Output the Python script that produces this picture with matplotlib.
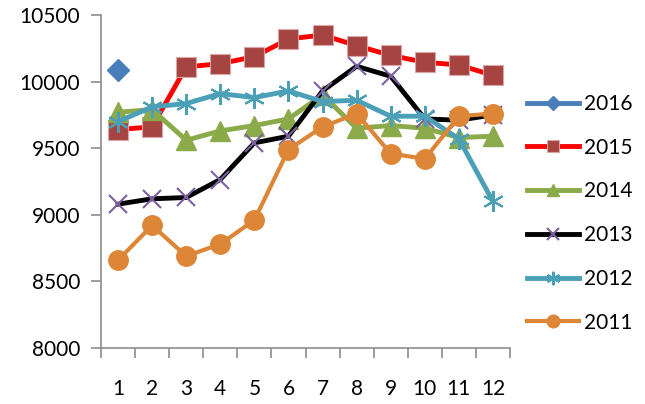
import matplotlib.pyplot as plt
import numpy as np

plt.rcParams['font.family'] = ['Lato', 'DejaVu Sans']

months = [1, 2, 3, 4, 5, 6, 7, 8, 9, 10, 11, 12]

y2016 = [10090]
y2015 = [9640, 9660, 10110, 10135, 10187, 10320, 10350, 10270, 10197, 10145, 10125, 10047]
y2014 = [9770, 9790, 9560, 9630, 9670, 9720, 9900, 9650, 9670, 9650, 9580, 9590]
y2013 = [9080, 9120, 9130, 9265, 9540, 9590, 9930, 10115, 10040, 9720, 9710, 9750]
y2012 = [9700, 9810, 9835, 9910, 9880, 9930, 9850, 9860, 9740, 9740, 9570, 9100]
y2011 = [8660, 8920, 8690, 8780, 8960, 9490, 9660, 9760, 9460, 9420, 9740, 9760]

series = [
    ('2016', y2016, 3.5, dict(color='#4A7EBB', marker='D', ms=11, mfc='#4A7EBB', mec='#4A7EBB')),
    ('2015', y2015, 3.5, dict(color='#FF0000', marker='s', ms=14, mfc='#A64442', mec='#D9A8A6', mew=0.8)),
    ('2014', y2014, 3.5, dict(color='#8BAA4A', marker='^', ms=14, mfc='#8BAA4A', mec='#8BAA4A')),
    ('2013', y2013, 3.5, dict(color='#000000', marker='x', ms=13, mfc='#7B5FA0', mec='#7B5FA0', mew=1.5)),
    ('2012', y2012, 3.5, dict(color='#4BA0B8', marker=(6, 2, 0), ms=15, mfc='#4BA0B8', mec='#4BA0B8', mew=1.5)),
    ('2011', y2011, 3.0, dict(color='#DD8638', marker='o', ms=14, mfc='#DD8638', mec='#DD8638')),
]

fig = plt.figure(figsize=(6.45, 4.04), dpi=100)
ax = fig.add_axes([101 / 645, 56 / 404, 409 / 645, 333 / 404])

for name, vals, lw, style in series:
    ax.plot(months[:len(vals)], vals, lw=lw, label=name, **style)

ax.set_xlim(0.5, 12.5)
ax.set_ylim(8000, 10500)
ax.set_yticks(np.arange(8000, 10501, 500))
ax.set_xticks(months)
ax.set_xticks(np.arange(0.5, 12.6, 1), minor=True)
ax.tick_params(axis='x', which='major', length=0, pad=22, labelsize=15)
ax.tick_params(axis='x', which='minor', length=7, width=1.2, color='#8C8C8C')
ax.tick_params(axis='y', length=7, width=1.2, color='#8C8C8C', pad=8, labelsize=15)

for side in ('top', 'right'):
    ax.spines[side].set_visible(False)
for side in ('left', 'bottom'):
    ax.spines[side].set_color('#8C8C8C')
    ax.spines[side].set_linewidth(1.2)

leg = ax.legend(loc='upper left', bbox_to_anchor=(1.042, 0.763), frameon=False,
                borderpad=0, borderaxespad=0, fontsize=15, markerscale=0.65,
                handlelength=2.5, labelspacing=1.14, handletextpad=0.25)

fig.savefig('out.png', dpi=100)
